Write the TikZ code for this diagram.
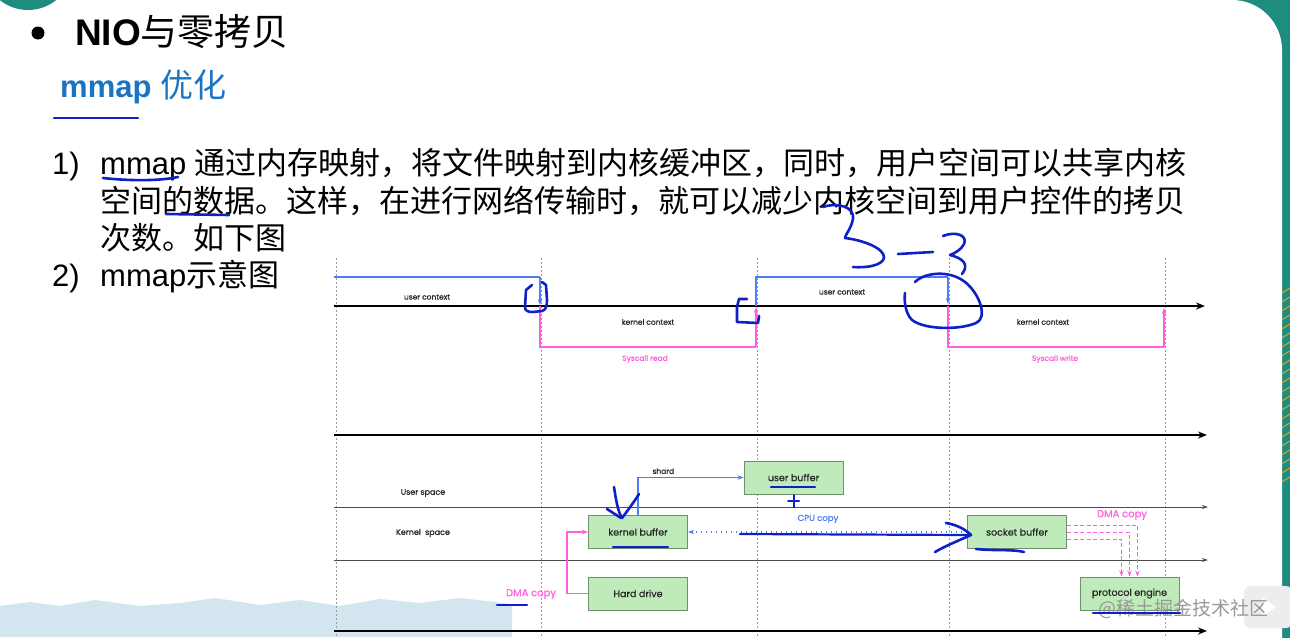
\documentclass[tikz,border=0pt]{standalone}
\usepackage{fontspec}
\setmainfont{Liberation Sans}
\newfontfamily\cjk{Noto Sans CJK SC}
\newfontfamily\dg[FakeBold=0.6]{Poppins}
\usetikzlibrary{arrows.meta,calc}
\definecolor{tealc}{HTML}{1E8C7E}
\definecolor{orangec}{HTML}{E8A020}
\definecolor{bluec}{HTML}{4D7FF0}
\definecolor{pinkc}{HTML}{FF5EE0}
\definecolor{penblue}{HTML}{1020C8}
\definecolor{boxfill}{HTML}{BFEAB9}
\definecolor{boxdraw}{HTML}{6F8F6F}
\definecolor{titleblue}{HTML}{1A74C4}
\definecolor{gridc}{HTML}{9A9A9A}
\definecolor{mount}{HTML}{D3E5EE}
\tikzset{
  vdash/.style={gridc,line width=0.9pt,dash pattern=on 2pt off 2pt},
  axisthick/.style={black,line width=2.2pt,-{Stealth[length=9pt,width=7pt]}},
  axisthin/.style={black!70,line width=0.9pt,-{Stealth[length=6pt,width=4pt]}},
  bl/.style={bluec,line width=1.2pt},
  pk/.style={pinkc,line width=1.2pt},
  tipb/.style={-{Stealth[length=6pt,width=4.5pt]}},
  gbox/.style={draw=boxdraw,fill=boxfill,line width=1pt,minimum width=99pt,minimum height=33pt,inner sep=0pt,text=black!85,font=\dg\fontsize{9.5}{11}\selectfont},
  small/.style={font=\dg\fontsize{7.5}{9}\selectfont,inner sep=0pt,text=black!85},
  pen/.style={penblue,line width=2.6pt,line cap=round,line join=round},
  txt/.style={inner sep=0pt,anchor=base west,font=\fontsize{31}{36}\selectfont}
}
\begin{document}
\begin{tikzpicture}[x=1pt,y=-1pt]
\useasboundingbox (0,0) rectangle (1290,637);
% slide background
\fill[tealc] (1150,-10) rectangle (1295,647);
\begin{scope}
\clip (1282,285) rectangle (1290,490);
\foreach \k in {0,...,24} {\draw[orangec,line width=1pt] (1275,270+\k*9) -- (1300,255+\k*9);}
\end{scope}
\fill[white,rounded corners=50pt] (-80,0) rectangle (1282,720);
\fill[tealc] (28,-35) circle (45);
\fill[mount] (0,637) -- (0,606) -- (30,602) -- (60,606) -- (95,600) -- (140,606) -- (180,603) -- (215,598) -- (260,605) -- (300,600) -- (340,606) -- (380,599) -- (420,603) -- (460,598) -- (512,604) -- (512,637) -- cycle;

% title
\fill[black] (38,33) circle (6.5);
\node[inner sep=0pt,anchor=base west] (title) at (75,45) {\fontsize{37}{40}\selectfont\bfseries NIO{\cjk\mdseries 与零拷贝}};
\node[inner sep=0pt,anchor=base west,text=titleblue] (sub) at (60,97) {\fontsize{31}{34}\selectfont\bfseries mmap {\cjk\mdseries\fontsize{33}{36}\selectfont 优化}};

% paragraph
\node[txt] (n1) at (52,174) {1)};
\node[txt] (l1) at (100,174) {mmap {\cjk 通过内存映射，将文件映射到内核缓冲区，同时，用户空间可以共享内核}};
\node[txt] (l2) at (100,212) {\cjk 空间的数据。这样，在进行网络传输时，就可以减少内核空间到用户控件的拷贝};
\node[txt] (l3) at (100,249) {\cjk 次数。如下图};
\node[txt] (n2) at (52,286) {2)};
\node[txt] (l4) at (100,286) {mmap{\cjk 示意图}};

% vertical dashed lines
\foreach \x in {336,541,757,949,1165} {\draw[vdash] (\x,258) -- (\x,637);}

% top timeline
\coordinate (t0) at (334,306);
\coordinate (t1) at (1205,306);
\draw[axisthick] (t0) -- (t1);
\draw[bl] (334,277) -- (540,277);
\draw[bl,tipb] (540,277) -- (540,305);
\draw[pk] (540,306) -- (540,347) -- (756,347);
\draw[pk,tipb] (756,347) -- (756,307);
\draw[bl] (756,306) -- (756,277) -- (948,277);
\draw[bl,tipb] (948,277) -- (948,304);
\draw[pk] (948,306) -- (948,347) -- (1164,347);
\draw[pk,tipb] (1164,347) -- (1164,308);
\node[small] (uc1) at (427,297) {user context};
\node[small] (kc1) at (648,322) {kernel context};
\node[small,text=pinkc] (sr) at (645,359) {Syscall read};
\node[small] (uc2) at (842,292) {user context};
\node[small] (kc2) at (1043,322) {kernel context};
\node[small,text=pinkc] (sw) at (1055,359) {Syscall write};

% middle axis
\coordinate (m0) at (334,435);
\coordinate (m1) at (1207,435);
\draw[axisthick] (m0) -- (m1);

% bottom section
\coordinate (b0) at (334,507);
\coordinate (b1) at (1208,507);
\draw[axisthin] (b0) -- (b1);
\coordinate (c0) at (334,560);
\coordinate (c1) at (1208,560);
\draw[axisthin] (c0) -- (c1);
\coordinate (d0) at (334,631);
\coordinate (d1) at (1207,631);
\draw[axisthick] (d0) -- (d1);
\node[small,font=\dg\fontsize{8}{9}\selectfont] (us) at (423,493) {User space};
\node[small,font=\dg\fontsize{8}{9}\selectfont] (ks) at (423,533) {Kernel\ \ space};

\node[gbox] (ub) at (793.5,477.5) {user buffer};
\node[gbox] (kb) at (638,532) {kernel buffer};
\node[gbox] (hd) at (638,593.5) {Hard drive};
\node[gbox] (sb) at (1017,532) {socket buffer};
\node[gbox] (pe) at (1129.5,593.5) {protocol engine};

\draw[bl,tipb] (kb.north) |- (ub.west) node[pos=0.62,above=3pt,small] {shard};
\draw[pk,tipb] (hd.west) -- ++(-21,0) |- (kb.west);
\node[small,text=pinkc,font=\dg\fontsize{10}{12}\selectfont] (dma1) at (531,594) {DMA copy};
\draw[bluec,line width=1.3pt,dash pattern=on 1.5pt off 3.5pt,tipb] (sb.west) -- (kb.east);
\node[small,text=bluec,font=\dg\fontsize{8.5}{10}\selectfont] (cpu) at (818,519) {CPU copy};
\draw[pinkc,line width=1pt,dash pattern=on 4pt off 2.5pt,tipb] ($(sb.east)+(0,-7)$) -| ($(pe.north)+(8,0)$);
\draw[pinkc,line width=1pt,dash pattern=on 4pt off 2.5pt,tipb] (sb.east) -| (pe.north);
\draw[pinkc,line width=1pt,dash pattern=on 4pt off 2.5pt,tipb] ($(sb.east)+(0,7)$) -| ($(pe.north)+(-8,0)$);
\node[small,text=pinkc,font=\dg\fontsize{10}{12}\selectfont] (dma2) at (1122,515) {DMA copy};

% watermark
\fill[black!7,rounded corners=6pt] (1244,586) rectangle (1292,628);
\fill[white] (1262,597) -- (1276,607) -- (1262,617) -- cycle;
\node[inner sep=0pt,text=black!40,font=\cjk\fontsize{19}{22}\selectfont] (wm) at (1183,609) {@稀土掘金技术社区};

% hand-drawn annotations
\draw[pen] (54,118) -- (138,118);
\draw[pen] (103,178) .. controls (130,181) and (160,181) .. (178,177);
\draw[pen] (166,214) -- (229,215);
\draw[pen] (823,207) .. controls (838,202) and (855,207) .. (853,219) .. controls (851,229) and (845,235) .. (845,238) .. controls (862,240) and (885,248) .. (884,258) .. controls (882,266) and (865,268) .. (853,267);
\draw[pen] (898,254) -- (933,252);
\draw[pen] (943,236) .. controls (955,231) and (968,235) .. (964,244) .. controls (961,250) and (955,253) .. (950,255) .. controls (962,258) and (970,264) .. (962,274);
\draw[pen] (915,282) .. controls (925,272) and (950,270) .. (965,282) .. controls (980,294) and (988,318) .. (976,323) .. controls (960,330) and (925,330) .. (912,320) .. controls (905,313) and (904,300) .. (905,293);
\draw[pen] (532,285) -- (526,290) -- (525,307) .. controls (525,311) and (528,312) .. (533,312) -- (542,311) .. controls (546,310) and (547,306) .. (547,300) -- (546,285) -- (542,282);
\draw[pen] (747,299) -- (739,299) -- (737,307) -- (737,322) -- (758,323) -- (759,316);
\draw[pen] (614,487) .. controls (616,500) and (618,512) .. (622,518) .. controls (628,510) and (634,502) .. (639,494);
\draw[pen] (607,509) -- (621,518);
\draw[pen] (613,547) -- (668,547);
\draw[pen] (771,487) -- (815,487);
\draw[pen,line width=2pt] (788,501) -- (799,501);
\draw[pen,line width=2pt] (793.5,495) -- (793.5,507);
\draw[pen,line width=2.2pt] (740,534) -- (969,535);
\draw[pen] (946,523) .. controls (958,525) and (966,530) .. (971,535) .. controls (960,540) and (945,546) .. (935,552);
\draw[pen] (976,549) .. controls (995,551) and (1012,549) .. (1024,552);
\draw[pen] (1093,613) -- (1180,613);
\draw[pen] (497,605) -- (527,605);
\end{tikzpicture}
\end{document}
